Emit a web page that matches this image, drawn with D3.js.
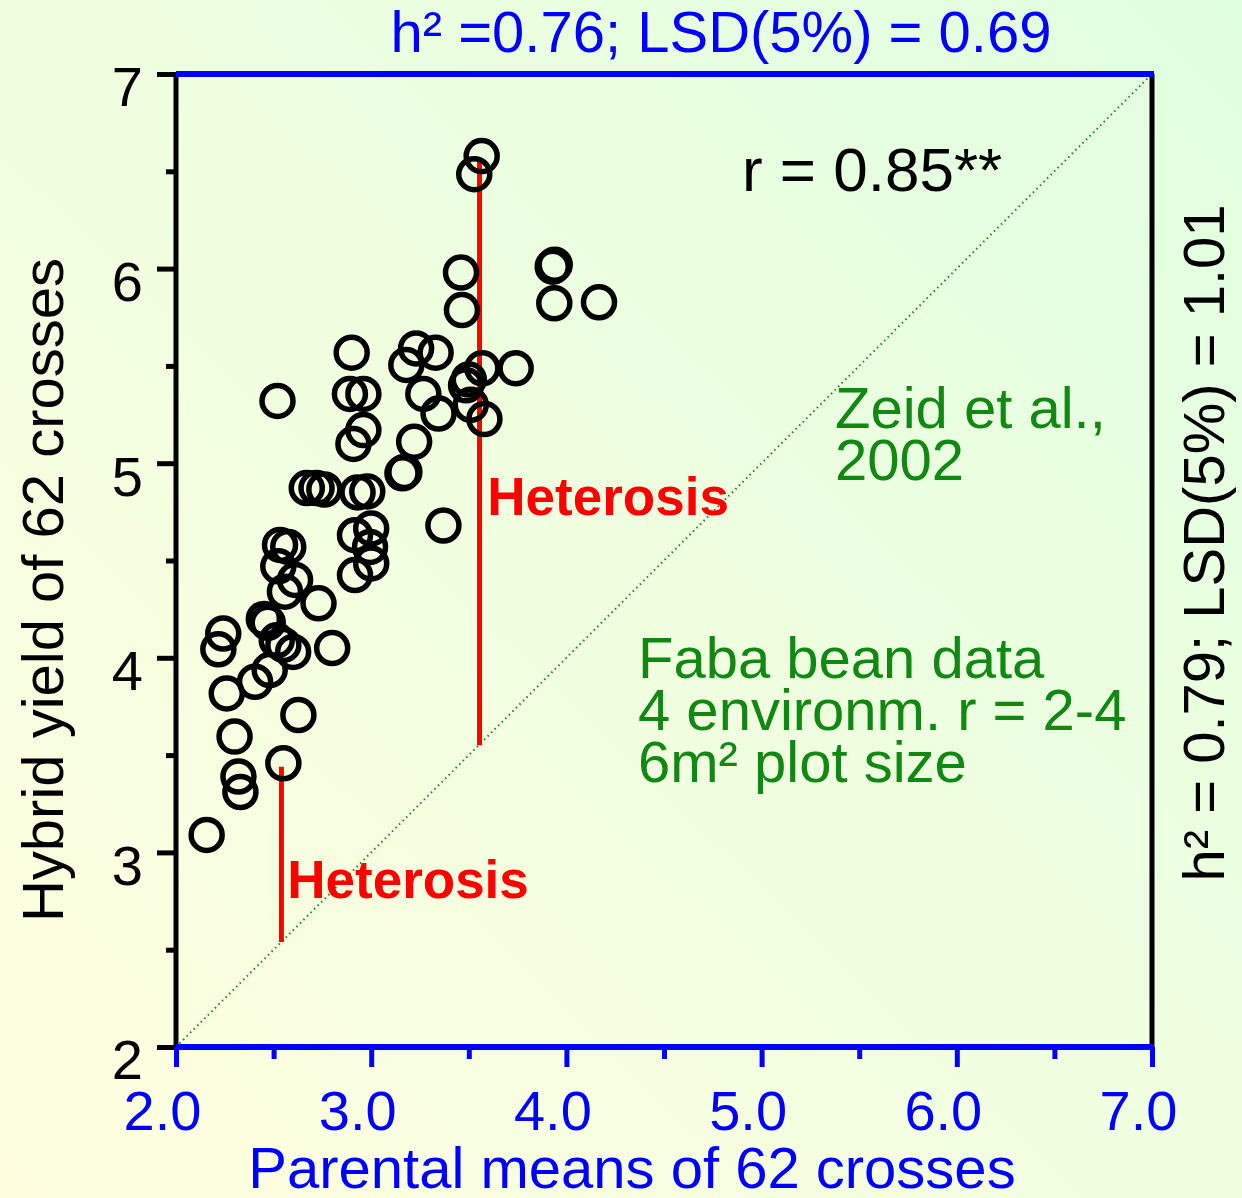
<!DOCTYPE html>
<html>
<head>
<meta charset="utf-8">
<script src="https://cdn.jsdelivr.net/npm/d3@7"></script>
<style>
  html, body { margin: 0; padding: 0; background: #f0fee0; }
  svg { display: block; font-family: "Liberation Sans", Arial, sans-serif; }
</style>
</head>
<body>
<svg id="chart" width="1242" height="1198"></svg>
<script>
// parental mean (x) vs hybrid yield (y), 62 crosses
const parentMeans = [3.566, 3.528, 3.46, 3.465, 3.93, 3.94, 3.938, 4.167, 2.90, 3.230,
                     3.33, 3.18, 3.569, 3.74, 2.891, 2.96, 3.267, 3.486, 3.50, 3.51,
                     3.58, 2.52, 2.96, 2.909, 3.345, 3.22, 3.16, 3.17, 2.67, 2.72,
                     2.76, 2.93, 2.98, 3.37, 2.917, 3.0, 2.994, 3.0, 2.917, 2.533,
                     2.575, 2.524, 2.61, 2.558, 2.73, 2.45, 2.47, 2.242, 2.217, 2.516,
                     2.55, 2.60, 2.80, 2.48, 2.405, 2.26, 2.627, 2.30, 2.55, 2.32,
                     2.33, 2.157];
const hybridYield = [6.578, 6.485, 5.98, 5.787, 6.01, 6.02, 5.822, 5.827, 5.568, 5.59,
                     5.568, 5.505, 5.488, 5.488, 5.356, 5.356, 5.356, 5.40, 5.43, 5.30,
                     5.227, 5.32, 5.17, 5.099, 5.255, 5.11, 4.948, 4.955, 4.872, 4.872,
                     4.865, 4.85, 4.855, 4.68, 4.63, 4.665, 4.57, 4.485, 4.425, 4.58,
                     4.57, 4.47, 4.40, 4.34, 4.28, 4.20, 4.18, 4.125, 4.044, 4.09,
                     4.066, 4.03, 4.05, 3.937, 3.877, 3.817, 3.706, 3.595, 3.458, 3.39,
                     3.31, 3.09];

const xTicks = [2, 3, 4, 5, 6, 7];
const xMinor = [2.5, 3.5, 4.5, 5.5, 6.5];
const yTicks = [2, 3, 4, 5, 6, 7];
const yMinor = [2.5, 3.5, 4.5, 5.5, 6.5];

// heterosis markers: x, from, to, label anchor
const heterosis = [
  { x: 3.555, y0: 3.55, y1: 6.56, lx: 3.595, ly: 4.734 },
  { x: 2.54, y0: 2.54, y1: 3.44, lx: 2.57, ly: 2.766 }
];

const noteLines = ["Faba bean data", "4 environm. r = 2-4", "6m\u00B2 plot size"];
const refLines = ["Zeid et al.,", "2002"];

const svg = d3.select("#chart");
const W = 1242, H = 1198;
const pLeft = 176, pRight = 1152, pTop = 74, pBottom = 1047;

const defs = svg.append("defs");
const grad = defs.append("linearGradient")
    .attr("id", "bg").attr("x1", "0%").attr("y1", "100%").attr("x2", "100%").attr("y2", "0%");
grad.append("stop").attr("offset", "0%").attr("stop-color", "#ffffe0");
grad.append("stop").attr("offset", "100%").attr("stop-color", "#e0ffe0");
svg.append("rect").attr("width", W).attr("height", H).attr("fill", "url(#bg)");

const x = d3.scaleLinear().domain([2, 7]).range([pLeft, pRight]);
const y = d3.scaleLinear().domain([2, 7]).range([pBottom, pTop]);

// 1:1 diagonal
svg.append("line")
    .attr("x1", x(2)).attr("y1", y(2)).attr("x2", x(7)).attr("y2", y(7))
    .attr("stroke", "#1a8a1a").attr("stroke-width", 2)
    .attr("stroke-dasharray", "1.5,3.5");

// frame
svg.append("line").attr("x1", pRight).attr("x2", pRight).attr("y1", pTop).attr("y2", pBottom)
    .attr("stroke", "black").attr("stroke-width", 5);

// left axis
const yAxis = svg.append("g").attr("transform", `translate(${pLeft},0)`)
    .call(d3.axisLeft(y).tickValues(yTicks).tickSize(19).tickFormat(d3.format("d")));
yAxis.select(".domain").attr("stroke", "black").attr("stroke-width", 5)
    .attr("d", `M0,${pTop - 2}V${pBottom}`);
yAxis.selectAll(".tick line").attr("stroke", "black").attr("stroke-width", 5);
yAxis.selectAll(".tick text").attr("font-size", 56).attr("fill", "black")
    .attr("x", -33).attr("dy", "0.57em");
svg.append("g").attr("transform", `translate(${pLeft},0)`)
    .call(d3.axisLeft(y).tickValues(yMinor).tickSize(10).tickFormat(""))
    .call(g => g.select(".domain").remove())
    .selectAll(".tick line").attr("stroke", "black").attr("stroke-width", 5);

// bottom axis
const xAxis = svg.append("g").attr("transform", `translate(0,${pBottom})`)
    .call(d3.axisBottom(x).tickValues(xTicks).tickSize(20).tickFormat(d3.format(".1f")));
xAxis.select(".domain").attr("stroke", "#0000ff").attr("stroke-width", 6)
    .attr("d", `M${pLeft},0H${pRight + 2}`);
xAxis.selectAll(".tick line").attr("stroke", "#0000ff").attr("stroke-width", 5);
xAxis.selectAll(".tick text").attr("font-size", 56).attr("fill", "#0000ff")
    .attr("x", -14).attr("y", 83).attr("dy", 0);
svg.append("g").attr("transform", `translate(0,${pBottom})`)
    .call(d3.axisBottom(x).tickValues(xMinor).tickSize(12).tickFormat(""))
    .call(g => g.select(".domain").remove())
    .selectAll(".tick line").attr("stroke", "#0000ff").attr("stroke-width", 5);

// top blue border
svg.append("line").attr("x1", pLeft).attr("x2", pRight + 2).attr("y1", pTop).attr("y2", pTop)
    .attr("stroke", "#0000ff").attr("stroke-width", 6);

// heterosis bars
svg.append("g").selectAll("line").data(heterosis).enter().append("line")
    .attr("x1", d => x(d.x)).attr("x2", d => x(d.x))
    .attr("y1", d => y(d.y1)).attr("y2", d => y(d.y0))
    .attr("stroke", "#ff0000").attr("stroke-width", 5);

// points
svg.append("g").selectAll("circle").data(parentMeans).enter().append("circle")
    .attr("cx", d => x(d)).attr("cy", (d, i) => y(hybridYield[i]))
    .attr("r", 15.5).attr("fill", "none").attr("stroke", "black").attr("stroke-width", 5.5);

svg.append("g").selectAll("text").data(heterosis).enter().append("text")
    .attr("x", d => x(d.lx)).attr("y", d => y(d.ly))
    .attr("font-size", 53).attr("font-weight", "bold").attr("fill", "#ff0000")
    .text("Heterosis");

// annotations
svg.append("text").attr("x", 742).attr("y", 191).attr("font-size", 62).attr("fill", "black")
    .text("r = 0.85**");

svg.append("g").selectAll("text").data(refLines).enter().append("text")
    .attr("x", 835).attr("y", (d, i) => 428 + i * 52)
    .attr("font-size", 58).attr("fill", "#118811").text(d => d);

svg.append("g").selectAll("text").data(noteLines).enter().append("text")
    .attr("x", 638).attr("y", (d, i) => 678 + i * 52)
    .attr("font-size", 58).attr("fill", "#118811").text(d => d);

// titles
svg.append("text").attr("x", 721).attr("y", 52).attr("text-anchor", "middle")
    .attr("font-size", 58).attr("fill", "#0000ff")
    .text("h\u00B2 =0.76; LSD(5%) = 0.69");

svg.append("text").attr("x", 632).attr("y", 1188).attr("text-anchor", "middle")
    .attr("font-size", 58).attr("fill", "#0000ff")
    .text("Parental means of 62 crosses");

svg.append("text")
    .attr("transform", `translate(63,590) rotate(-90)`)
    .attr("text-anchor", "middle").attr("font-size", 58).attr("fill", "black")
    .text("Hybrid yield of 62 crosses");

svg.append("text")
    .attr("transform", `translate(1224,543) rotate(-90)`)
    .attr("text-anchor", "middle").attr("font-size", 58).attr("fill", "black")
    .text("h\u00B2 = 0.79; LSD(5%) = 1.01");
</script>
</body>
</html>
